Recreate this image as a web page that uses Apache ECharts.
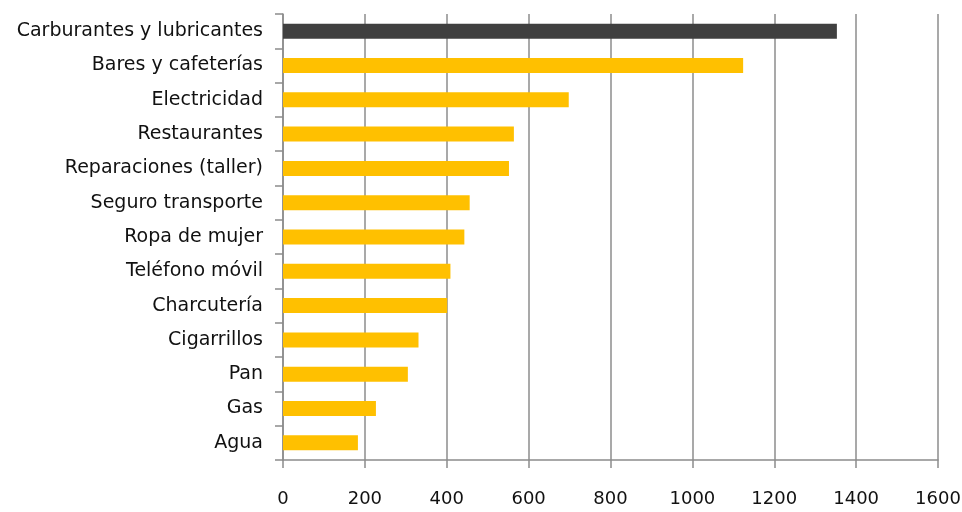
<!DOCTYPE html>
<html>
<head>
<meta charset="utf-8">
<script src="https://cdn.jsdelivr.net/npm/echarts@6/dist/echarts.min.js"></script>
<style>
  html, body { margin: 0; padding: 0; background: #ffffff; }
  #chart { width: 962px; height: 512px; }
</style>
</head>
<body>
<div id="chart"></div>
<script>
// Spending categories, top to bottom
const categories = [
  'Carburantes y lubricantes',
  'Bares y cafeterías',
  'Electricidad',
  'Restaurantes',
  'Reparaciones (taller)',
  'Seguro transporte',
  'Ropa de mujer',
  'Teléfono móvil',
  'Charcutería',
  'Cigarrillos',
  'Pan',
  'Gas',
  'Agua'
];
const values = [1353, 1124, 698, 564, 552, 456, 443, 409, 401, 331, 305, 227, 183];
const xTicks = [0, 200, 400, 600, 800, 1000, 1200, 1400, 1600];

const highlightColor = '#404040';
const barColor = '#FFC000';
const lineColor = '#8c8c8c';
const textColor = '#111111';
const fontFamily = '"DejaVu Sans", sans-serif';

const chart = echarts.init(document.getElementById('chart'), null, { renderer: 'canvas' });
chart.setOption({
  animation: false,
  backgroundColor: '#ffffff',
  grid: {
    left: 283, right: 24, top: 14, bottom: 52,
    containLabel: false, outerBoundsMode: 'none'
  },
  xAxis: {
    type: 'value',
    min: xTicks[0],
    max: xTicks[xTicks.length - 1],
    interval: 200,
    axisLine: { show: true, lineStyle: { color: lineColor, width: 1.5 } },
    axisTick: { show: true, length: 8, lineStyle: { color: lineColor, width: 1.5 } },
    splitLine: { show: true, lineStyle: { color: lineColor, width: 1.5 } },
    axisLabel: {
      margin: 30, color: textColor, fontSize: 18, fontFamily: fontFamily,
      formatter: v => String(v)
    }
  },
  yAxis: {
    type: 'category',
    data: categories,
    inverse: true,
    axisLine: { show: true, lineStyle: { color: lineColor, width: 1.5 } },
    axisTick: { show: true, length: 8, lineStyle: { color: lineColor, width: 1.5 } },
    splitLine: { show: false },
    axisLabel: { margin: 20, color: textColor, fontSize: 19, fontFamily: fontFamily }
  },
  series: [{
    type: 'bar',
    data: values.map((v, i) => ({
      value: v,
      itemStyle: { color: i === 0 ? highlightColor : barColor }
    })),
    barWidth: 15
  }]
});
</script>
</body>
</html>
